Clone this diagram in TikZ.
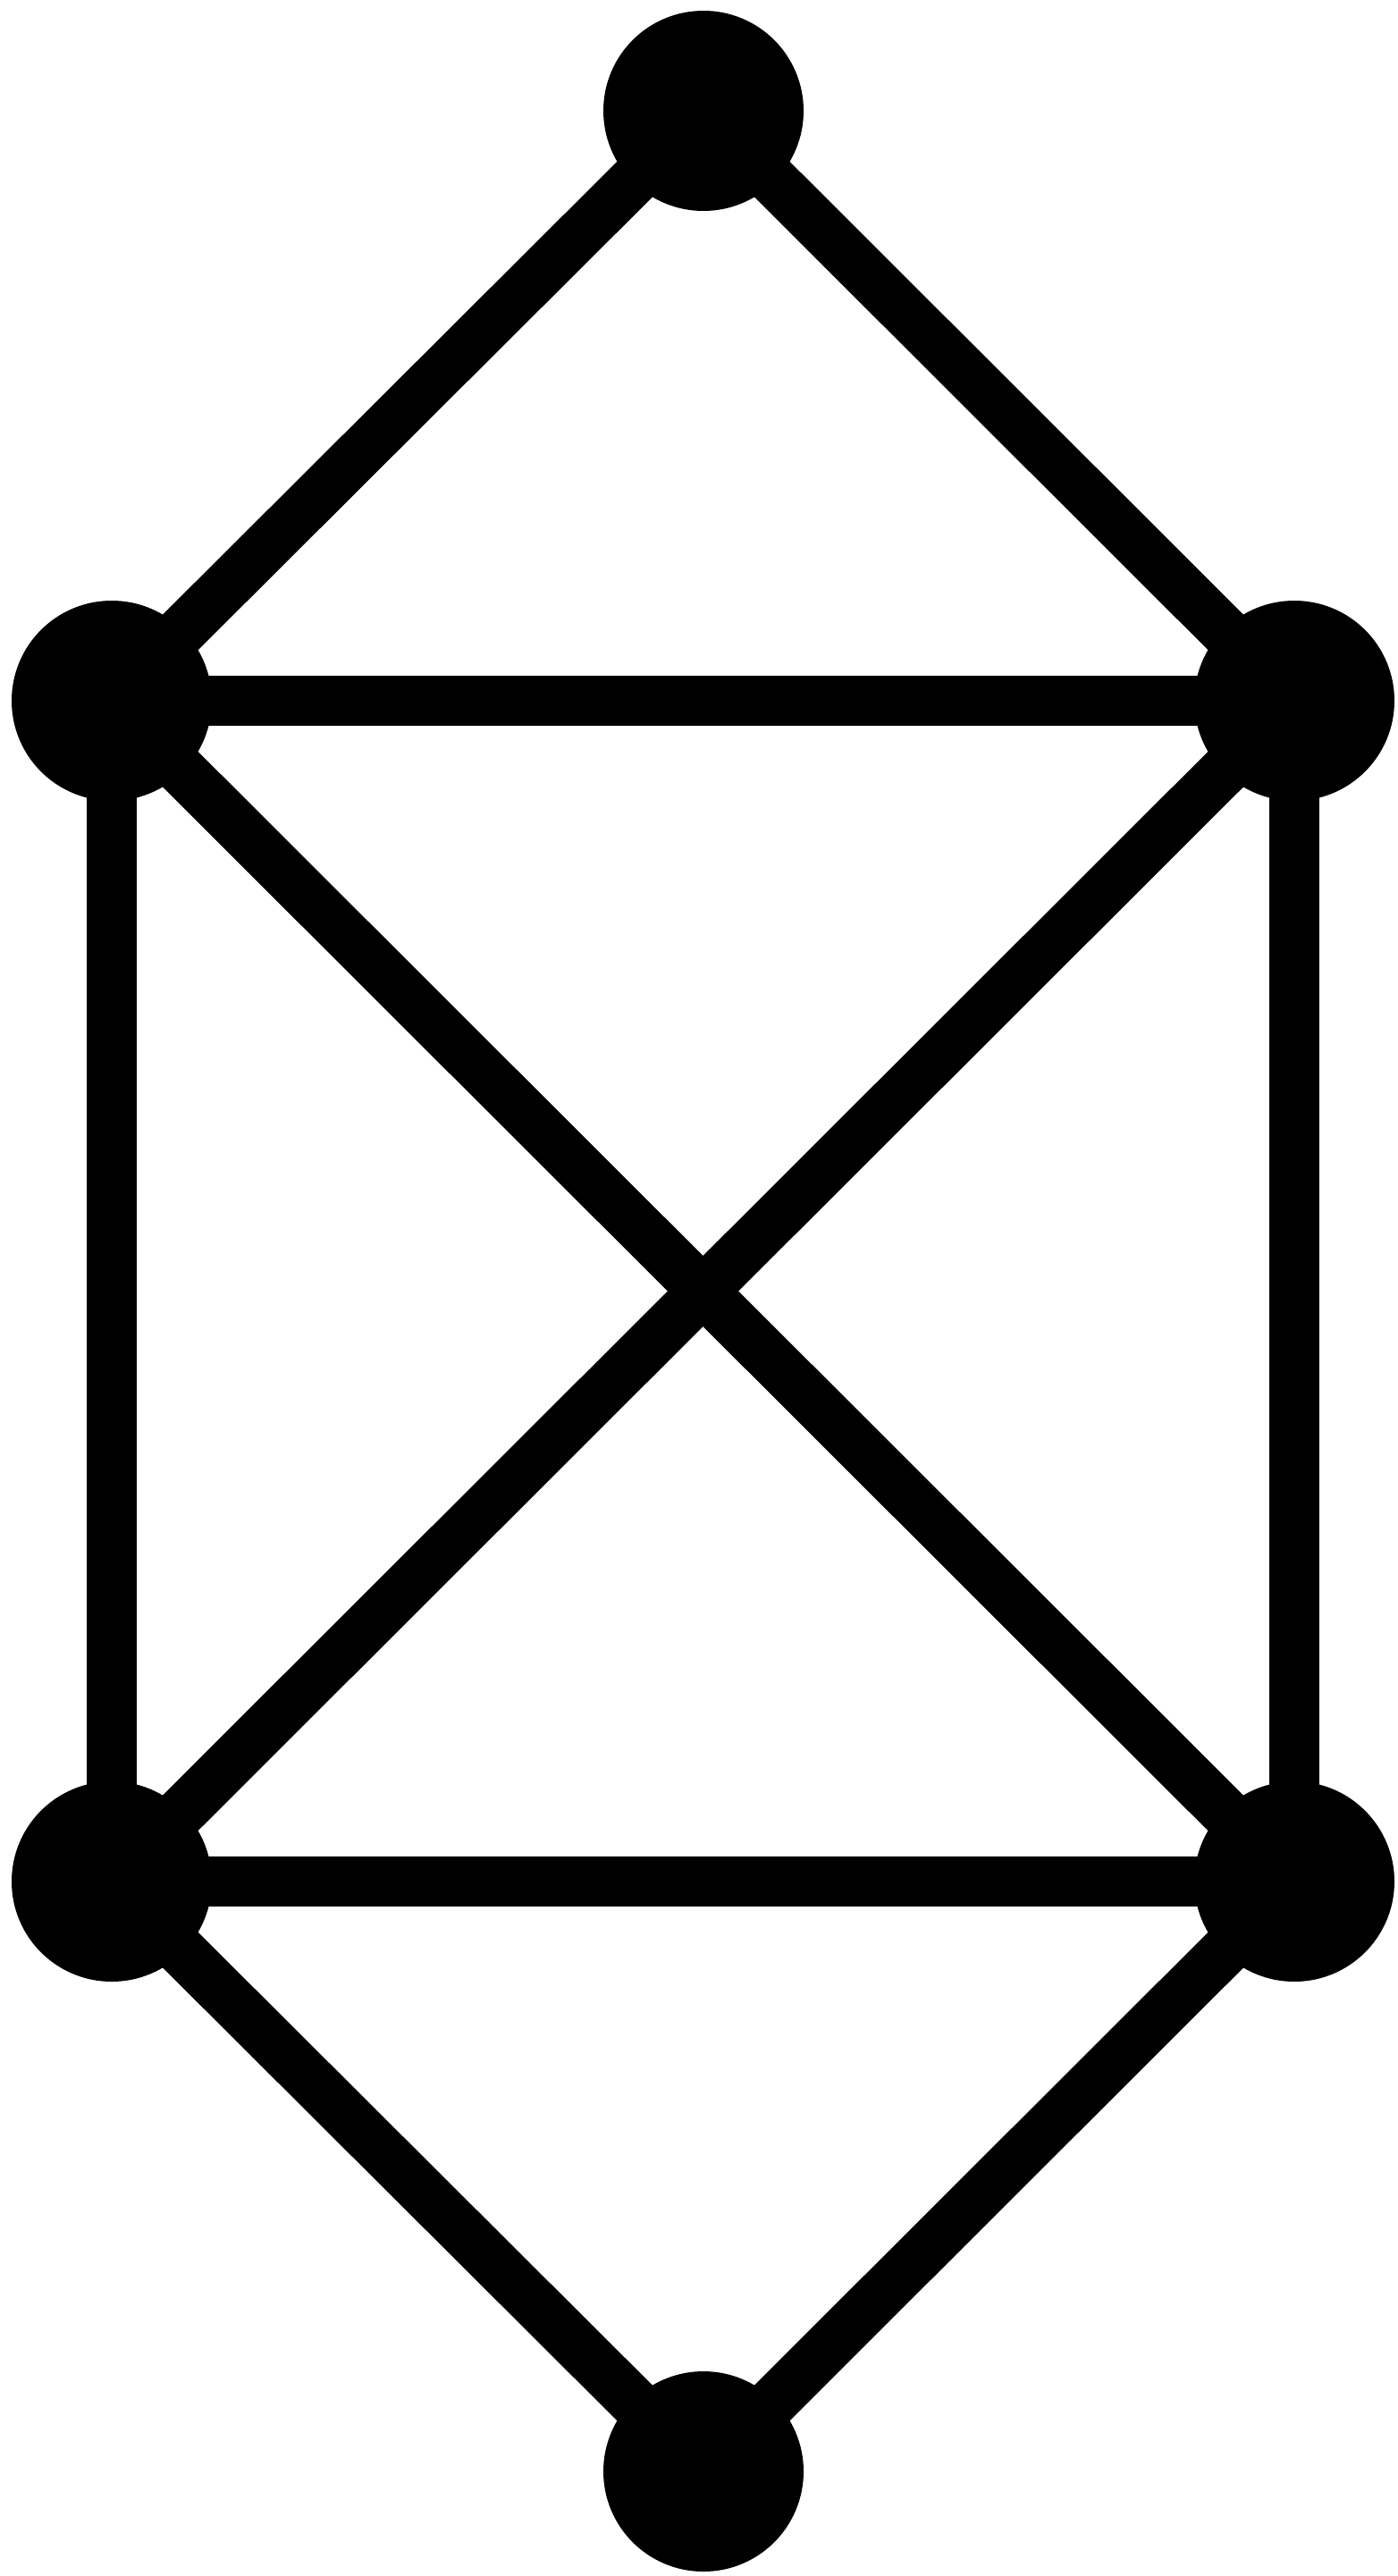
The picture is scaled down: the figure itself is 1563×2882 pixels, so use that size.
\documentclass[tikz,border=0pt]{standalone}

\tikzset{every picture/.style={line width=0.75pt}}
\tikzset{vertex/.style={circle,fill={rgb, 255:red, 0; green, 0; blue, 0 },inner sep=0pt,minimum size=168pt},
         edge/.style={color={rgb, 255:red, 0; green, 0; blue, 0 },line width=42pt}}

\begin{document}
\begin{tikzpicture}[x=0.75pt,y=0.75pt,yscale=-1,xscale=1]
%set diagram left start at 0, and has height of 2882
\useasboundingbox (0,0) rectangle (1563,2882);

% Vertices
\node [vertex] (top) at (787,124) {};
\node [vertex] (lu) at (125,784) {};
\node [vertex] (ru) at (1448,784) {};
\node [vertex] (ll) at (125,2105) {};
\node [vertex] (rl) at (1448,2105) {};
\node [vertex] (bot) at (787,2765) {};

%Straight Lines
\draw [edge] (top.center) -- (lu.center) ;
\draw [edge] (top.center) -- (ru.center) ;
\draw [edge] (lu.center) -- (ru.center) ;
\draw [edge] (lu.center) -- (ll.center) ;
\draw [edge] (ru.center) -- (rl.center) ;
\draw [edge] (lu.center) -- (rl.center) ;
\draw [edge] (ru.center) -- (ll.center) ;
\draw [edge] (ll.center) -- (rl.center) ;
\draw [edge] (ll.center) -- (bot.center) ;
\draw [edge] (rl.center) -- (bot.center) ;

\end{tikzpicture}
\end{document}
